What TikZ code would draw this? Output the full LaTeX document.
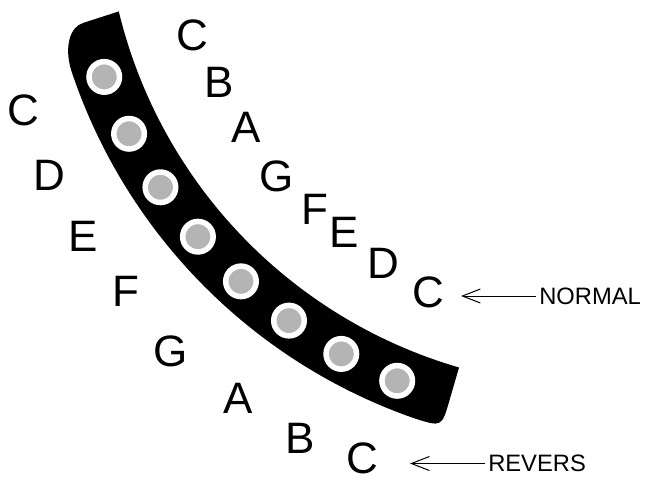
\documentclass[tikz,border=0pt]{standalone}
\usepackage{fontspec}
\setmainfont{Liberation Sans}
\usetikzlibrary{arrows.meta}
\definecolor{dotgray}{RGB}{180,180,180}
\begin{document}
\begin{tikzpicture}[x=0.75pt,y=-0.75pt,
  letter/.style={inner sep=0pt, font=\fontsize{33}{40}\selectfont},
  tag/.style={inner ysep=0pt, inner xsep=2.25pt, anchor=west, font=\fontsize{17.8}{20}\selectfont},
  hole/.style={circle, fill=dotgray, draw=white, line width=4.125pt, minimum size=22.875pt, inner sep=0pt, outer sep=0pt},
  pointer/.style={line width=0.75pt, -{Straight Barb[length=13.5pt,width=10.5pt]}}]
\useasboundingbox (0,0) rectangle (645,484);
\begin{scope}[shift={(596,-104)}]
  \fill (166.4:491) -- (166.1:528) .. controls (166.05:542) and (164.2:553) .. (161.6:553)
        arc[start angle=161.6, end angle=109.1, radius=553]
        .. controls (106.2:553) .. (106.2:525) -- (106.2:491)
        arc[start angle=106.2, end angle=166.4, radius=491] -- cycle;
  \foreach \i in {0,...,7}
    \node[hole] (h\i) at ({159.8-6.786*\i}:524) {};
\end{scope}
% inner row (normal)
\node[letter] (n1) at (192,35) {C};
\node[letter] (n2) at (219,82) {B};
\node[letter] (n3) at (246,127) {A};
\node[letter] (n4) at (277,176) {G};
\node[letter] (n5) at (315,209) {F};
\node[letter] (n6) at (344,232) {E};
\node[letter] (n7) at (383,263) {D};
\node[letter] (n8) at (428,292.5) {C};
% outer row (revers)
\node[letter] (r1) at (23,110) {C};
\node[letter] (r2) at (49,175) {D};
\node[letter] (r3) at (83,236) {E};
\node[letter] (r4) at (126,291) {F};
\node[letter] (r5) at (171,351) {G};
\node[letter] (r6) at (238,398) {A};
\node[letter] (r7) at (300,438) {B};
\node[letter] (r8) at (362.5,458) {C};
% labels and pointers
\node[tag] (normal) at (536,296) {NORMAL};
\coordinate (tn) at (461,296);
\draw[pointer] (normal) -- (tn);
\node[tag] (revers) at (485,463.5) {REVERS};
\coordinate (tr) at (410,463.5);
\draw[pointer] (revers) -- (tr);
\end{tikzpicture}
\end{document}
